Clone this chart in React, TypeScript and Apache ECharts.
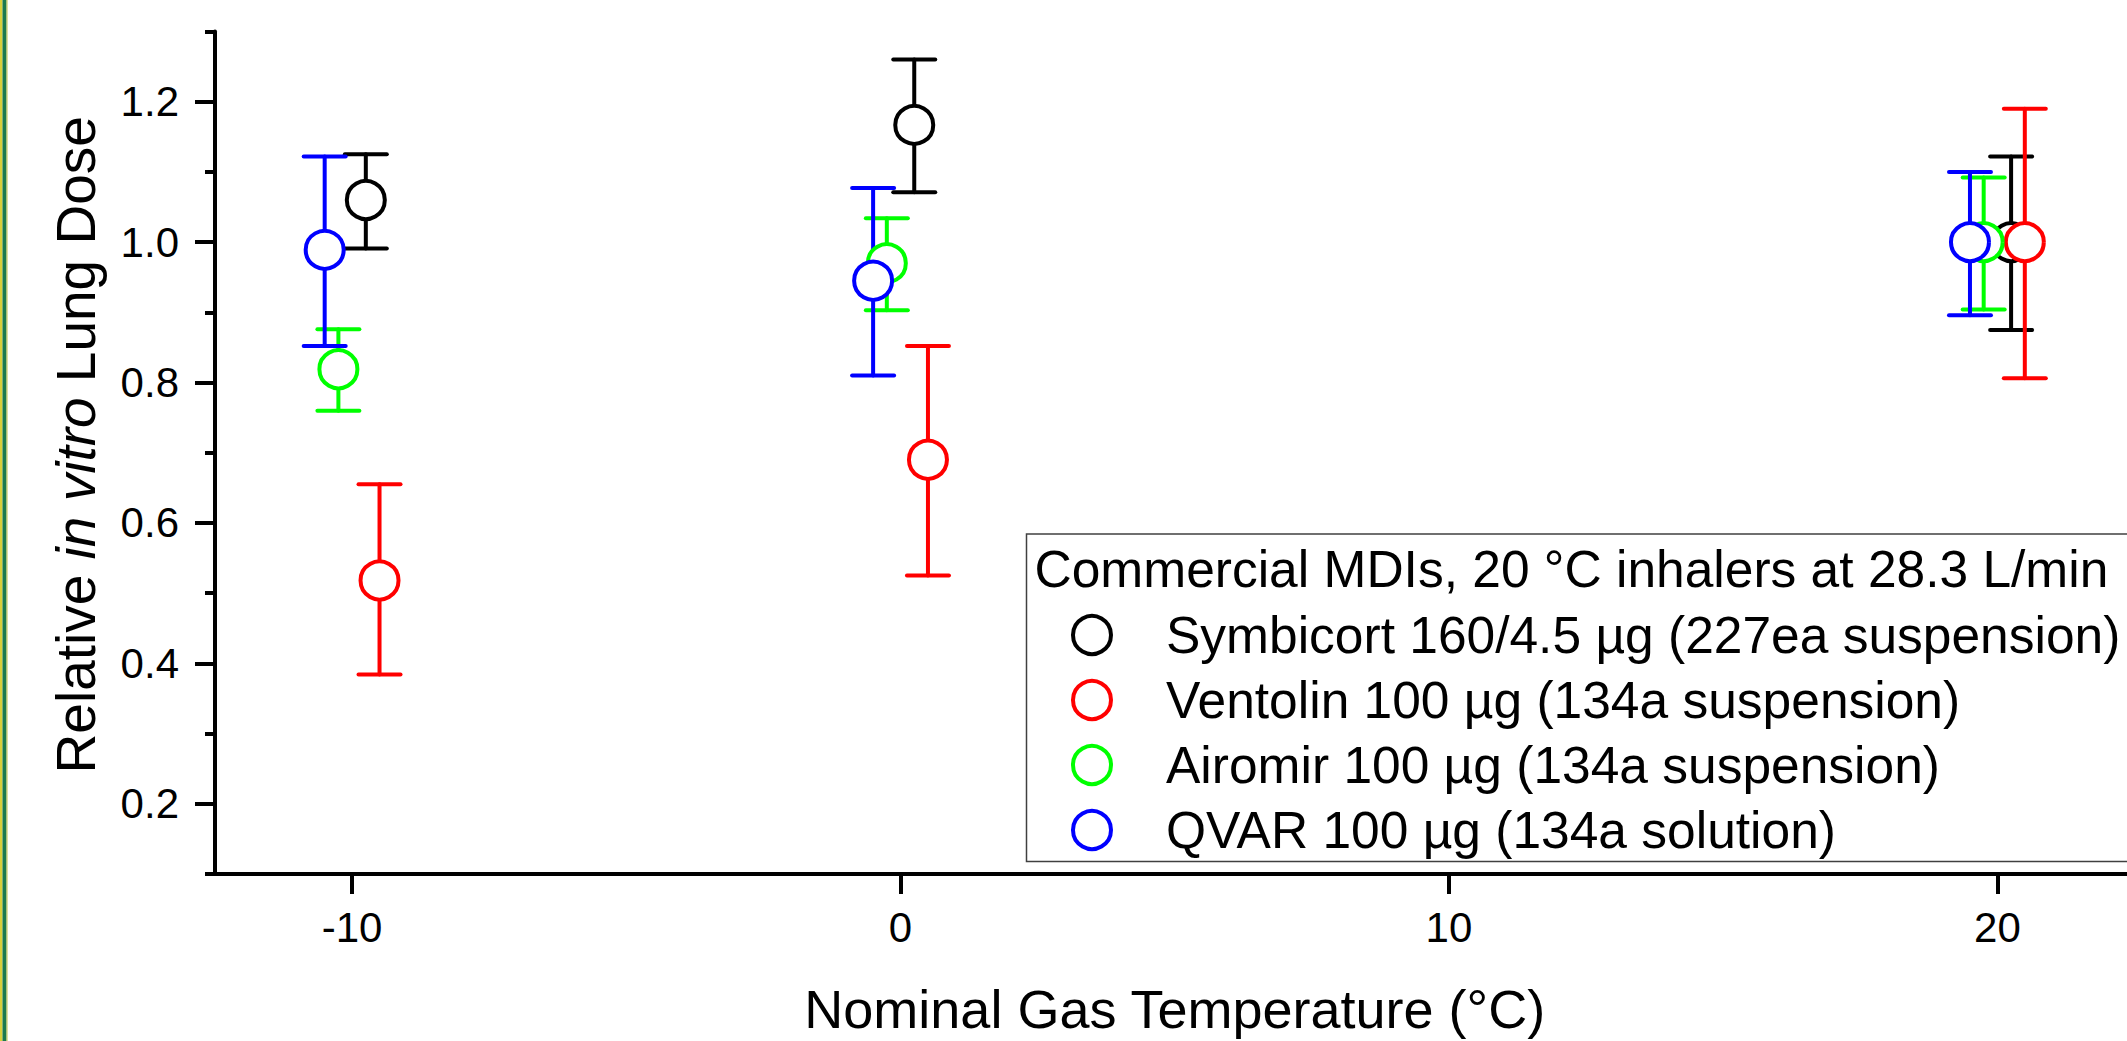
import React, { useEffect, useRef } from "react";
import * as echarts from "echarts";

const FONT = "'Liberation Sans', Arial, Helvetica, sans-serif";

const seriesNames = [
  "Symbicort 160/4.5 µg (227ea suspension)",
  "Ventolin 100 µg (134a suspension)",
  "Airomir 100 µg (134a suspension)",
  "QVAR 100 µg (134a solution)",
];
const seriesColors = ["#000000", "#ff0000", "#00ff00", "#0000ff"];

// Nominal gas temperature (°C), slightly offset per product
const symbicortX = [-9.75, 0.25, 20.25];
const symbicortY = [1.06, 1.167, 1.0];
const symbicortLow = [0.991, 1.071, 0.875];
const symbicortHigh = [1.125, 1.26, 1.122];

const ventolinX = [-9.5, 0.5, 20.5];
const ventolinY = [0.518, 0.69, 1.0];
const ventolinLow = [0.384, 0.525, 0.806];
const ventolinHigh = [0.655, 0.852, 1.19];

const airomirX = [-10.25, -0.25, 19.75];
const airomirY = [0.819, 0.97, 1.0];
const airomirLow = [0.76, 0.903, 0.904];
const airomirHigh = [0.876, 1.034, 1.092];

const qvarX = [-10.5, -0.5, 19.5];
const qvarY = [0.989, 0.945, 1.0];
const qvarLow = [0.852, 0.81, 0.896];
const qvarHigh = [1.122, 1.077, 1.1];

const xTicks = [-10, 0, 10, 20];
const yMajorTicks = [0.2, 0.4, 0.6, 0.8, 1.0, 1.2];
const yMinorTicks = [0.1, 0.3, 0.5, 0.7, 0.9, 1.1, 1.3];

const legendTitle = "Commercial MDIs, 20 °C inhalers at 28.3 L/min";

const groups = [
  { x: symbicortX, y: symbicortY, lo: symbicortLow, hi: symbicortHigh },
  { x: ventolinX, y: ventolinY, lo: ventolinLow, hi: ventolinHigh },
  { x: airomirX, y: airomirY, lo: airomirLow, hi: airomirHigh },
  { x: qvarX, y: qvarY, lo: qvarLow, hi: qvarHigh },
];

const CHART_W = 2300;
const CHART_H = 1041;
const LEGEND_FONT = 51.5;

export default function App() {
  const ref = useRef<HTMLDivElement>(null);

  useEffect(() => {
    document.body.style.margin = "0";
    if (!ref.current) return;
    const chart = echarts.init(ref.current, null, { renderer: "svg" });

    const series: any[] = [];
    groups.forEach((g, si) => {
      const color = seriesColors[si];
      series.push({
        type: "custom",
        name: seriesNames[si],
        silent: true,
        xAxisIndex: 0,
        yAxisIndex: 0,
        data: g.x.map((xv, i) => [xv, g.lo[i], g.hi[i]]),
        encode: { x: 0, y: [1, 2] },
        renderItem: (params: any, api: any) => {
          const xv = api.value(0);
          const pLo = api.coord([xv, api.value(1)]);
          const pHi = api.coord([xv, api.value(2)]);
          const hw = 21;
          const style = { stroke: color, lineWidth: 4, lineCap: "round" };
          return {
            type: "group",
            children: [
              { type: "line", shape: { x1: pLo[0], y1: pLo[1], x2: pHi[0], y2: pHi[1] }, style },
              { type: "line", shape: { x1: pHi[0] - hw, y1: pHi[1], x2: pHi[0] + hw, y2: pHi[1] }, style },
              { type: "line", shape: { x1: pLo[0] - hw, y1: pLo[1], x2: pLo[0] + hw, y2: pLo[1] }, style },
            ],
          };
        },
      });
      series.push({
        type: "scatter",
        name: seriesNames[si],
        silent: true,
        xAxisIndex: 0,
        yAxisIndex: 0,
        symbol: "circle",
        symbolSize: 38,
        itemStyle: { color: "#ffffff", borderColor: color, borderWidth: 4, opacity: 1 },
        data: g.x.map((xv, i) => [xv, g.y[i]]),
      });
    });

    const axisLine = { show: true, onZero: false, lineStyle: { color: "#000", width: 4 } };

    chart.setOption({
      animation: false,
      backgroundColor: "#ffffff",
      grid: { left: 215, top: 31.5, right: CHART_W - 2134.5, bottom: CHART_H - 874 },
      xAxis: {
        type: "value",
        min: -12.5,
        max: 22.5,
        name: "Nominal Gas Temperature (°C)",
        nameLocation: "middle",
        nameGap: 108,
        nameTextStyle: { fontSize: 54, color: "#000", fontFamily: FONT },
        axisLine,
        axisTick: { show: true, customValues: xTicks, length: 20, lineStyle: { color: "#000", width: 4 } },
        axisLabel: {
          customValues: xTicks,
          margin: 32,
          fontSize: 42,
          color: "#000",
          fontFamily: FONT,
        },
        splitLine: { show: false },
      },
      yAxis: [
        {
          type: "value",
          min: 0.1,
          max: 1.3,
          position: "left",
          name: "{n|Relative }{i|in vitro}{n| Lung Dose}",
          nameLocation: "middle",
          nameGap: 112,
          nameTextStyle: {
            fontSize: 55,
            color: "#000",
            fontFamily: FONT,
            padding: [0, 0, 0, 16],
            rich: {
              n: { fontSize: 55, color: "#000", fontFamily: FONT },
              i: { fontSize: 55, color: "#000", fontFamily: FONT, fontStyle: "italic" },
            },
          },
          axisLine,
          axisTick: { show: true, customValues: yMajorTicks, length: 20, lineStyle: { color: "#000", width: 4 } },
          axisLabel: {
            customValues: yMajorTicks,
            margin: 36,
            fontSize: 42,
            color: "#000",
            fontFamily: FONT,
            formatter: (v: number) => v.toFixed(1),
          },
          splitLine: { show: false },
        },
        {
          type: "value",
          min: 0.1,
          max: 1.3,
          position: "left",
          axisLine: { show: false, onZero: false },
          axisTick: { show: true, customValues: yMinorTicks, length: 10, lineStyle: { color: "#000", width: 4 } },
          axisLabel: { show: false },
          splitLine: { show: false },
        },
      ],
      legend: {
        orient: "vertical",
        left: 1071,
        top: 609,
        padding: 0,
        itemWidth: 138,
        itemHeight: 38,
        itemGap: 13,
        symbolKeepAspect: true,
        selectedMode: false,
        textStyle: { fontSize: LEGEND_FONT, color: "#000", fontFamily: FONT },
        data: seriesNames.map((n, i) => ({
          name: n,
          icon: "circle",
          itemStyle: { color: "#ffffff", borderColor: seriesColors[i], borderWidth: 4 },
        })),
      },
      graphic: [
        { type: "rect", z: 0, shape: { x: 0, y: 0, width: 2.5, height: 1041 }, style: { fill: "#d8cf3a" } },
        { type: "rect", z: 0, shape: { x: 2.5, y: 0, width: 4, height: 1041 }, style: { fill: "#1b7a4e" } },
        { type: "rect", z: 0, shape: { x: 6.5, y: 0, width: 1, height: 1041 }, style: { fill: "#b9c24a" } },
        {
          type: "rect",
          z: 0,
          shape: { x: 1026.5, y: 534, width: 1300, height: 327.5 },
          style: { fill: "#ffffff", stroke: "#404040", lineWidth: 1.5 },
        },
        {
          type: "text",
          z: 5,
          x: 1034.5,
          y: 569,
          style: {
            text: legendTitle,
            fontSize: LEGEND_FONT,
            fontFamily: FONT,
            fill: "#000",
            verticalAlign: "middle",
            align: "left",
          },
        },
      ],
      series,
    });

    return () => chart.dispose();
  }, []);

  return (
    <div style={{ width: 2127, height: 1041, overflow: "hidden", position: "relative", background: "#fff" }}>
      <div ref={ref} style={{ width: CHART_W, height: CHART_H }} />
    </div>
  );
}
